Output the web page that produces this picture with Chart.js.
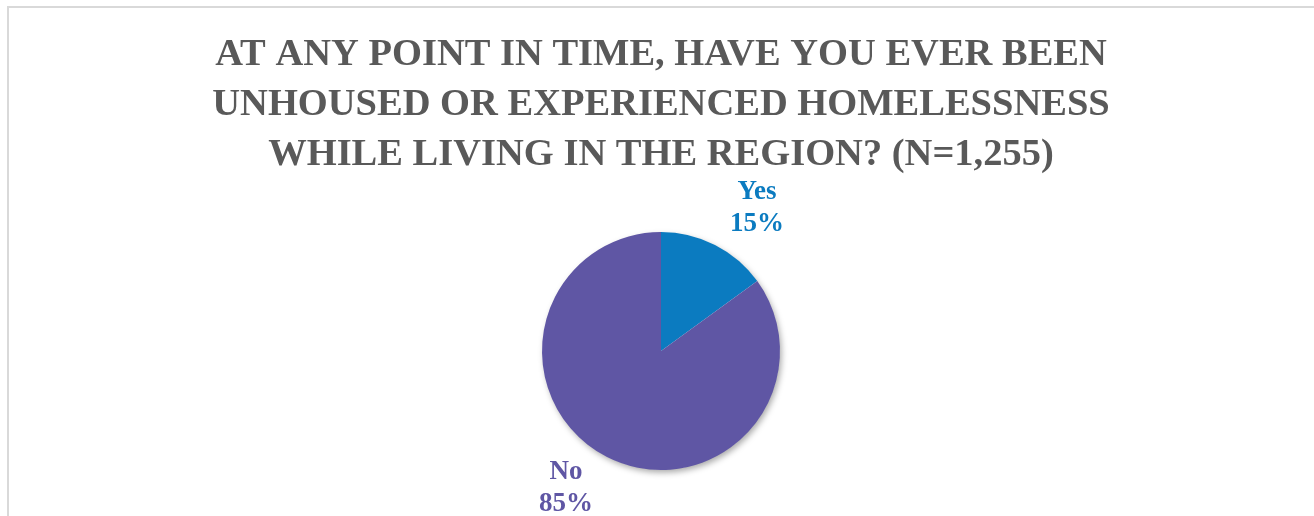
<!DOCTYPE html>
<html>
<head>
<meta charset="utf-8">
<script src="https://cdn.jsdelivr.net/npm/chart.js@4/dist/chart.umd.min.js"></script>
<style>
  html, body { margin: 0; padding: 0; background: #fff; overflow: hidden; }
  #wrap { position: relative; width: 1314px; height: 516px; }
  #frame {
    position: absolute; left: 7px; top: 6px; width: 1400px; height: 600px;
    border: 2px solid #d9d9d9; box-sizing: border-box;
  }
  #chart { position: absolute; left: 0; top: 0; }
</style>
</head>
<body>
<div id="wrap">
  <div id="frame"></div>
  <canvas id="chart" width="1314" height="516"></canvas>
</div>
<script>
const titleLines = [
  'AT ANY POINT IN TIME, HAVE YOU EVER BEEN',
  'UNHOUSED OR EXPERIENCED HOMELESSNESS',
  'WHILE LIVING IN THE REGION? (N=1,255)',
]
const answers = ['Yes', 'No']
const shares = [15, 85]
const sliceColors = ['#0B7BC0', '#5F56A4']

const SERIF = '"Liberation Serif", "Times New Roman", serif'

// label box nudges (px) relative to the mid-angle anchor, one per slice
const labelNudge = [[17, 12], [-16, -18]]

// soft drop shadow under the whole pie, drawn once so slices don't shade each other
const pieShadow = {
  id: 'pieShadow',
  beforeDatasetsDraw(chart) {
    const arc = chart.getDatasetMeta(0).data[0]
    if (!arc) return
    const { x, y, outerRadius } = arc.getProps(['x', 'y', 'outerRadius'], true)
    const ctx = chart.ctx
    ctx.save()
    ctx.shadowColor = 'rgba(0,0,0,0.35)'
    ctx.shadowBlur = 6
    ctx.shadowOffsetX = 2
    ctx.shadowOffsetY = 3
    ctx.fillStyle = '#fff'
    ctx.beginPath()
    ctx.arc(x, y, outerRadius - 0.5, 0, Math.PI * 2)
    ctx.fill()
    ctx.restore()
  },
}

// category + percentage outside each slice
const outsideLabels = {
  id: 'outsideLabels',
  afterDatasetsDraw(chart) {
    const ctx = chart.ctx
    const meta = chart.getDatasetMeta(0)
    const values = chart.data.datasets[0].data
    const total = values.reduce((a, b) => a + b, 0)
    ctx.save()
    ctx.font = `bold 27px ${SERIF}`
    ctx.textAlign = 'center'
    ctx.textBaseline = 'middle'
    meta.data.forEach((arc, i) => {
      const { x, y, startAngle, endAngle, outerRadius } =
        arc.getProps(['x', 'y', 'startAngle', 'endAngle', 'outerRadius'], true)
      const mid = (startAngle + endAngle) / 2
      const dist = outerRadius + 55
      const cx = x + Math.cos(mid) * dist + labelNudge[i][0]
      const cy = y + Math.sin(mid) * dist + labelNudge[i][1]
      const pct = Math.round(values[i] / total * 100) + '%'
      ctx.fillStyle = sliceColors[i]
      ctx.fillText(chart.data.labels[i], cx, cy - 16)
      ctx.fillText(pct, cx, cy + 16)
    })
    ctx.restore()
  },
}

new Chart(document.getElementById('chart'), {
  type: 'pie',
  data: {
    labels: answers,
    datasets: [{
      data: shares,
      backgroundColor: sliceColors,
      borderWidth: 0,
      hoverOffset: 0,
    }],
  },
  options: {
    responsive: false,
    animation: false,
    layout: { padding: { left: 8, top: 0, right: 0, bottom: 46 } },
    plugins: {
      legend: { display: false },
      tooltip: { enabled: false },
      title: {
        display: true,
        text: titleLines,
        color: '#595959',
        font: { family: SERIF, size: 38.5, weight: 'bold', lineHeight: 50 / 38.5 },
        padding: { top: 30, bottom: 52 },
      },
    },
  },
  plugins: [pieShadow, outsideLabels],
})
</script>
</body>
</html>
